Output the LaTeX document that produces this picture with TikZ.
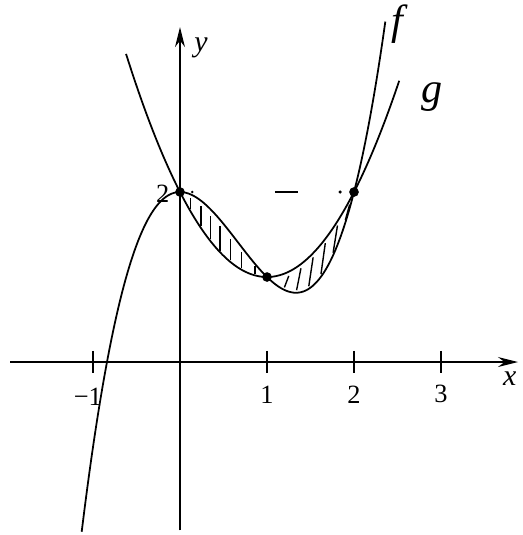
\documentclass[tikz,border=0pt]{standalone}
\usepackage{fontspec}
\setmainfont{Liberation Serif}
\usetikzlibrary{arrows.meta}
\tikzset{
  axis/.style={line width=0.8pt, -{Stealth[length=4mm,width=2mm]}},
  curve/.style={line width=1pt, samples=120, smooth},
  hatch/.style={line width=0.8pt},
  dot/.style={circle, fill, inner sep=0pt, minimum size=5.5pt},
  ticklab/.style={font=\fontsize{15}{17}\selectfont},
  varlab/.style={font=\fontsize{17}{19}\selectfont\itshape},
  fnlab/.style={font=\fontsize{24}{27}\selectfont\itshape}
}
\begin{document}
\begin{tikzpicture}[x=1.74cm, y=1.70cm,
  declare function={ff(\x)=\x*\x*\x-2*\x*\x+2; gg(\x)=\x*\x-2*\x+2;}]
\useasboundingbox (-2.069,-2.035) rectangle (3.931,4.259);
% axes
\draw[axis] (-1.95,0) -- (3.885,0);
\draw[axis] (0,-1.98) -- (0,3.94);
\node[varlab] (xlab) at (3.79,-0.19) {x};
\node[varlab] (ylab) at (0.24,3.7) {y};
\foreach \t in {-1,1,2,3}
  \draw[line width=0.7pt] (\t,0.13) -- (\t,-0.13);
\node[ticklab] (tm1) at (-1.06,-0.41) {−1};
\foreach \t in {1,2,3}
  \node[ticklab] (t\t) at (\t,-0.38) {\t};
\node[ticklab] (t2y) at (-0.2,1.98) {2};
% curves f and g
\draw[curve, domain=-1.13:2.36] plot (\x,{ff(\x)});
\draw[curve, domain=-0.62:2.52] plot (\x,{gg(\x)});
\node[fnlab] (flab) at (2.5,3.98) {f};
\node[fnlab] (glab) at (2.9,3.12) {g};
% hatching between the curves
\foreach \h in {0.12,0.24,0.35,0.46,0.58,0.71,0.86}
  \draw[hatch] (\h,{gg(\h)+0.02}) -- (\h,{gg(\h)+0.8*(ff(\h)-gg(\h))});
\foreach \h in {1.2,1.34,1.48,1.62,1.76,1.9}
  \draw[hatch] (\h,{ff(\h)+0.03}) -- ({\h+0.05},{gg(\h+0.05)-0.05});
% marks on the line y=2
\draw[line width=0.9pt] (1.09,2) -- (1.36,2);
\fill (1.84,2) circle (1pt);
\fill (0.14,2) circle (0.8pt);
% intersection points
\node[dot] (p0) at (0,2) {};
\node[dot] (p1) at (1,1) {};
\node[dot] (p2) at (2,2) {};
\end{tikzpicture}
\end{document}
